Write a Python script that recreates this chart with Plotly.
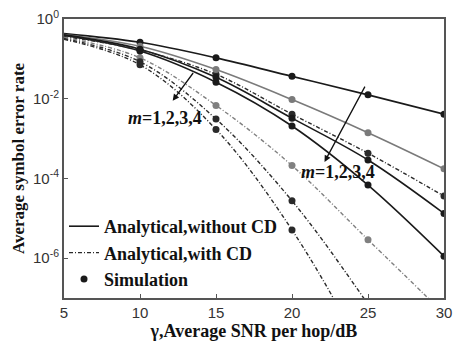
import plotly.graph_objects as go

snr = [5, 10, 15, 20, 25, 30]
sim_snr = [10, 15, 20, 25, 30]
m_values = [1, 2, 3, 4]

# Analytical, without CD (m = 1..4)
ser_no_cd_m1 = [0.43, 0.26, 0.106, 0.0364, 0.0125, 0.0041]
ser_no_cd_m2 = [0.41, 0.207, 0.054, 0.0095, 0.0014, 1.74e-4]
ser_no_cd_m3 = [0.40, 0.175, 0.0344, 0.00325, 2.9e-4, 1.32e-5]
ser_no_cd_m4 = [0.385, 0.157, 0.026, 0.00207, 6.8e-5, 1.12e-6]

# Analytical, with CD (m = 1..4)
ser_cd_m1 = [0.363, 0.166, 0.041, 0.0041, 4.3e-4, 3.6e-5]
ser_cd_m2 = [0.347, 0.106, 0.0068, 2.1e-4, 2.9e-6, 4.1e-8]
ser_cd_m3 = [0.324, 0.085, 0.0031, 2.75e-5, 7e-8, 1e-10]
ser_cd_m4 = [0.31, 0.071, 0.0017, 5.1e-6, 2.5e-9, 3e-13]

no_cd = [ser_no_cd_m1, ser_no_cd_m2, ser_no_cd_m3, ser_no_cd_m4]
with_cd = [ser_cd_m1, ser_cd_m2, ser_cd_m3, ser_cd_m4]
colors = ["#1a1a1a", "#7a7a7a", "#1a1a1a", "#1a1a1a"]
cd_colors = ["#2a2a2a", "#808080", "#2a2a2a", "#2a2a2a"]

serif = "Liberation Serif"
sans = "Liberation Sans"

fig = go.Figure()

for i, m in enumerate(m_values):
    fig.add_trace(go.Scatter(
        x=snr, y=no_cd[i], mode="lines", line=dict(color=colors[i], width=1.6, shape="spline"),
        name="<b>Analytical,without CD</b>", showlegend=(i == 0)))
for i, m in enumerate(m_values):
    fig.add_trace(go.Scatter(
        x=snr, y=with_cd[i], mode="lines",
        line=dict(color=cd_colors[i], width=1.4, shape="spline", dash="4px,2px,1px,2px"),
        name="<b>Analytical,with CD</b>", showlegend=(i == 0)))
for i, m in enumerate(m_values):
    for series, col in ((no_cd[i], colors[i]), (with_cd[i], cd_colors[i])):
        fig.add_trace(go.Scatter(
            x=sim_snr, y=series[1:], mode="markers",
            marker=dict(color=col, size=7),
            name="<b>Simulation</b>", showlegend=False))
fig.add_trace(go.Scatter(
    x=[None], y=[None], mode="markers", marker=dict(color="#1a1a1a", size=7),
    name="<b>Simulation</b>", showlegend=True))

# annotations: m = 1,2,3,4 labels and arrows
ann_font = dict(family=serif, size=18, color="#111")
fig.add_annotation(x=11.64, y=-2.49, text="<b><i>m</i>=1,2,3,4</b>", showarrow=False, font=ann_font)
fig.add_annotation(x=23.04, y=-3.83, text="<b><i>m</i>=1,2,3,4</b>", showarrow=False, font=ann_font)
fig.add_annotation(x=12.15, y=-2.05, ax=13.57, ay=-1.317, axref="x", ayref="y",
                   text="", showarrow=True, arrowhead=2, arrowsize=1, arrowwidth=1.3,
                   arrowcolor="#111")
fig.add_annotation(x=22.14, y=-3.585, ax=24.85, ay=-1.66, axref="x", ayref="y",
                   text="", showarrow=True, arrowhead=2, arrowsize=1, arrowwidth=1.3,
                   arrowcolor="#111")

axis_line = dict(showline=True, linecolor="#555", linewidth=2, mirror=True,
                 ticks="inside", ticklen=4, tickcolor="#555", showgrid=False, zeroline=False)

fig.update_xaxes(range=[5, 30], tickvals=[5, 10, 15, 20, 25, 30],
                 tickfont=dict(family=sans, size=15, color="#333"),
                 title=dict(text="<b>γ,Average SNR per hop/dB</b>", standoff=2,
                            font=dict(family=serif, size=18, color="#111")),
                 **axis_line)
fig.update_yaxes(type="log", range=[-7, 0], tickvals=[1, 1e-2, 1e-4, 1e-6],
                 ticktext=["10<sup>0</sup>", "10<sup>-2</sup>", "10<sup>-4</sup>", "10<sup>-6</sup>"],
                 tickfont=dict(family=sans, size=15, color="#333"),
                 title=dict(text="<b>Average symbol error rate</b>", standoff=4,
                            font=dict(family=serif, size=17, color="#111")),
                 **axis_line)

fig.update_layout(
    width=460, height=344,
    margin=dict(l=64, r=8, t=15, b=42),
    paper_bgcolor="white", plot_bgcolor="white",
    legend=dict(x=0.0, y=0.0, xanchor="left", yanchor="bottom",
                bgcolor="rgba(0,0,0,0)", font=dict(family=serif, size=18, color="#111"),
                tracegroupgap=0, itemwidth=30, traceorder="normal"),
)

fig.write_html("out.html")
